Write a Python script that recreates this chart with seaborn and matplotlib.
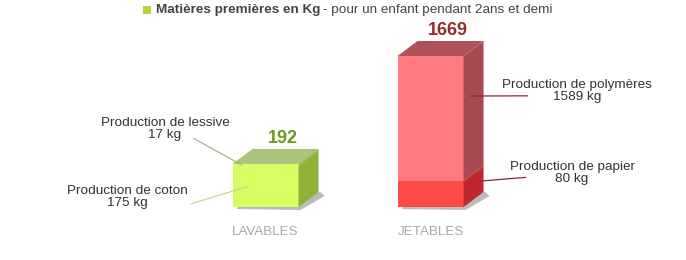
import numpy as np
import pandas as pd
import matplotlib
matplotlib.use("Agg")
import matplotlib.pyplot as plt
from matplotlib.patches import Polygon, Rectangle
from matplotlib.transforms import IdentityTransform
import seaborn as sns

# ---- data ----
categories = ["LAVABLES", "JETABLES"]
bottom_names = ["Production de coton", "Production de papier"]
bottom_values = [175, 80]
top_names = ["Production de lessive", "Production de polymères"]
top_values = [17, 1589]
totals = [b + t for b, t in zip(bottom_values, top_values)]

sns.set_theme(style="white")
plt.rcParams["font.family"] = ["Liberation Sans", "DejaVu Sans"]

W, H = 686, 260
fig = plt.figure(figsize=(W / 100, H / 100), dpi=100)
ax = fig.add_axes([0, 53 / H, 1, 151 / H])

p = 0.58
ax.set_yscale("function",
              functions=(lambda y: np.power(np.clip(y, 0, None), p),
                         lambda y: np.power(np.clip(y, 0, None), 1 / p)))

front_top = {"LAVABLES": "#d6fd62", "JETABLES": "#ff7b7f"}
front_bot = {"LAVABLES": "#d6fd62", "JETABLES": "#ff4a4a"}
side_top = {"LAVABLES": "#8db33a", "JETABLES": "#a84a52"}
side_bot = {"LAVABLES": "#8db33a", "JETABLES": "#c0282e"}
top_face = {"LAVABLES": "#a9c47b", "JETABLES": "#b0525a"}
value_col = {"LAVABLES": "#6a9a1a", "JETABLES": "#9a2a2a"}

df_tot = pd.DataFrame({"cat": categories, "val": totals})
df_bot = pd.DataFrame({"cat": categories, "val": bottom_values})
sns.barplot(data=df_tot, x="cat", y="val", hue="cat", palette=front_top,
            width=0.4, legend=False, ax=ax, linewidth=0, saturation=1)
n_tot = len(ax.patches)
sns.barplot(data=df_bot, x="cat", y="val", hue="cat", palette=front_bot,
            width=0.4, legend=False, ax=ax, linewidth=0, saturation=1)

ax.set_xlim(-1.609, 2.548)
ax.set_ylim(0, max(totals))
ax.set_xlabel("")
ax.set_ylabel("")
ax.set_yticks([])
ax.tick_params(axis="x", length=0, pad=14, labelsize=9.6, labelcolor="#a8a8a8")
for s in ax.spines.values():
    s.set_visible(False)
ax.patch.set_alpha(0)

fig.canvas.draw()
dx, dy = 20, 15
idt = IdentityTransform()

tot_patches = ax.patches[:n_tot]
bot_patches = ax.patches[n_tot:n_tot + len(categories)]
for pch in ax.patches:
    pch.set_zorder(1)


def disp(patch):
    bb = patch.get_window_extent()
    return bb.x0, bb.y0, bb.x1, bb.y1


def add_poly(pts, color, z, alpha=1.0):
    poly = Polygon(pts, closed=True, transform=idt, facecolor=color, edgecolor="none",
                   zorder=z, alpha=alpha, clip_on=False)
    ax.add_artist(poly)


geo = {}
for cat, pt, pb in zip(categories, tot_patches, bot_patches):
    x0, y0, x1, y1 = disp(pt)
    _, _, _, yb = disp(pb)
    geo[cat] = (x0, y0, x1, y1, yb)
    # shadow
    add_poly([(x0 + 6, y0 + 1), (x0 + 4, y0 - 2), (x1 + 2, y0 - 3), (x1 + dx + 6, y0 + dy - 4),
              (x1 + dx + 2, y0 + dy)], "#555555", 0.5, alpha=0.4)
    # side faces
    for (ya, yb_, col) in [(y0, yb, side_bot[cat]), (yb, y1, side_top[cat])]:
        add_poly([(x1, ya), (x1 + dx, ya + dy), (x1 + dx, yb_ + dy), (x1, yb_)], col, 2)
    # top face
    add_poly([(x0, y1), (x0 + dx, y1 + dy), (x1 + dx, y1 + dy), (x1, y1)], top_face[cat], 2)

for cat, tot in zip(categories, totals):
    x0, y0, x1, y1, yb = geo[cat]
    fig.text((x0 + x1) / 2 / W + dx * 0.85 / W, (y1 + dy + 2) / H, f"{tot}",
             ha="center", va="bottom", fontsize=13, fontweight="bold",
             color=value_col[cat])

# ---- annotations ----
ann_color = "#333333"
fs = 9.7
ls = 1.02


def arrow(color, rel):
    return dict(arrowstyle="-", color=color, lw=0.9, shrinkA=0, shrinkB=0,
                patchA=None, relpos=rel)


x0, y0, x1, y1, yb = geo["LAVABLES"]
ax.annotate(f"{top_names[0]}\n{top_values[0]} kg", xy=(x0 + 9, y1 - 1), xycoords="figure pixels",
            xytext=(165, H - 129), textcoords="figure pixels", ha="center", va="center",
            fontsize=fs, color=ann_color, linespacing=ls, zorder=5,
            arrowprops=arrow("#a8b48a", (0.72, 0.12)), annotation_clip=False)
ax.annotate(f"{bottom_names[0]}\n{bottom_values[0]} kg", xy=(x0 + 15, (y0 + yb) / 2),
            xycoords="figure pixels",
            xytext=(127, H - 197), textcoords="figure pixels", ha="center", va="center",
            fontsize=fs, color=ann_color, linespacing=ls, zorder=5,
            arrowprops=arrow("#c8d890", (1.03, 0.22)), annotation_clip=False)

x0, y0, x1, y1, yb = geo["JETABLES"]
ax.annotate(f"{top_names[1]}\n{top_values[1]} kg", xy=(x1 + 7, y1 - 0.32 * (y1 - yb)),
            xycoords="figure pixels",
            xytext=(577, H - 91), textcoords="figure pixels", ha="center", va="center",
            fontsize=fs, color=ann_color, linespacing=ls, zorder=5,
            arrowprops=arrow("#8b2a35", (0.17, 0.3)), annotation_clip=False)
ax.annotate(f"{bottom_names[1]}\n{bottom_values[1]} kg", xy=(x1 + 17, (y0 + yb) / 2 + 13),
            xycoords="figure pixels",
            xytext=(572, H - 173), textcoords="figure pixels", ha="center", va="center",
            fontsize=fs, color=ann_color, linespacing=ls, zorder=5,
            arrowprops=arrow("#8b2a35", (0.13, 0.32)), annotation_clip=False)

# ---- legend / title ----
fig.add_artist(Rectangle((143 / W, (H - 14) / H), 8 / W, 8 / H, transform=fig.transFigure,
                         facecolor="#b5d334", edgecolor="none"))
t1 = fig.text(156 / W, (H - 10) / H, "Matières premières en Kg", ha="left", va="center",
              fontsize=9.7, fontweight="bold", color="#444444")
fig.canvas.draw()
bb = t1.get_window_extent()
fig.text((bb.x1 + 3) / W, (H - 10) / H, "- pour un enfant pendant 2ans et demi", ha="left",
         va="center", fontsize=9.7, color="#444444")

fig.savefig("out.png", dpi=100)
